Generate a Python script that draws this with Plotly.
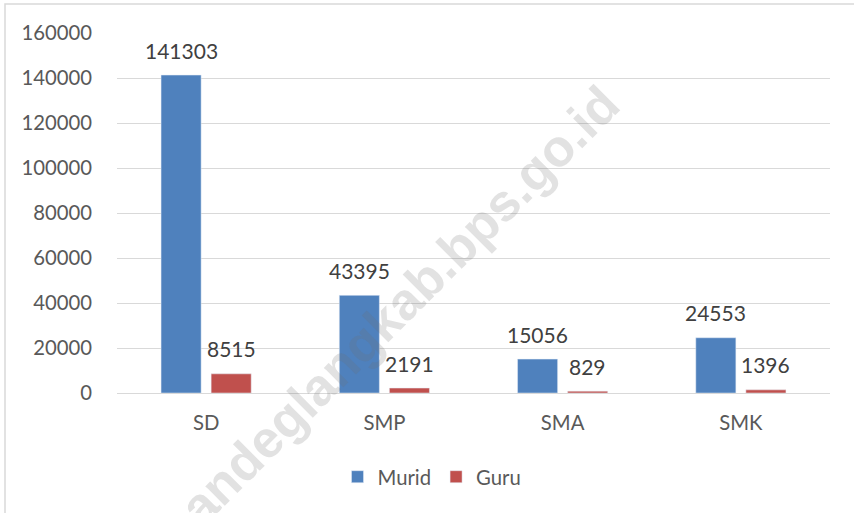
import plotly.graph_objects as go

categories = ["SD", "SMP", "SMA", "SMK"]
murid = [141303, 43395, 15056, 24553]
guru = [8515, 2191, 829, 1396]
y_ticks = [0, 20000, 40000, 60000, 80000, 100000, 120000, 140000, 160000]

FONT = "Lato"
BLUE = "#4F81BD"
RED = "#C0504D"

# plot area target: x 117..830, y 33..393 (screen px)
L, R, T, B = 117, 24, 33, 120
PW, PH = 713, 360

fig = go.Figure()
fig.add_trace(go.Bar(name="Murid", x=categories, y=murid, marker_color=BLUE))
fig.add_trace(go.Bar(name="Guru", x=categories, y=guru, marker_color=RED))

annotations = []
for series, shift in ((murid, -25), (guru, 25)):
    for c, v in zip(categories, series):
        annotations.append(dict(
            x=c, y=v, xref="x", yref="y", text=str(v), showarrow=False,
            xshift=shift, yshift=25, yanchor="middle",
            font=dict(family=FONT, size=21, color="#404040"),
        ))

# watermark
annotations.append(dict(
    x=(388 - 117) / PW, y=(393 - 317) / PH, xref="paper", yref="paper",
    text="<b>pandeglangkab.bps.go.id</b>",
    showarrow=False, textangle=-45, xanchor="center", yanchor="middle",
    font=dict(family="Liberation Sans", size=52, color="rgba(110,110,110,0.2)"),
))

fig.update_layout(
    width=854, height=513,
    margin=dict(l=L, r=R, t=T, b=B, autoexpand=False),
    paper_bgcolor="white", plot_bgcolor="white",
    barmode="group", bargap=0.438, bargroupgap=0.2,
    showlegend=True,
    legend=dict(orientation="h", x=(432 - 117) / PW, xanchor="center",
                y=-(477 - 393) / PH, yanchor="middle",
                font=dict(family=FONT, size=20.3, color="#595959"),
                traceorder="normal"),
    font=dict(family=FONT, size=20.3, color="#595959"),
    annotations=annotations,
)
fig.update_yaxes(range=[0, 160000], tickvals=y_ticks, ticktext=[str(t) for t in y_ticks],
                 showgrid=True, gridcolor="#d9d9d9", gridwidth=1,
                 zeroline=True, zerolinecolor="#d9d9d9", zerolinewidth=1,
                 showline=False, ticks="", ticklabelstandoff=24,
                 tickfont=dict(family=FONT, size=20.3, color="#595959"))
fig.update_xaxes(showgrid=False, showline=False, ticks="", ticklabelstandoff=16,
                 tickfont=dict(family=FONT, size=20.3, color="#595959"))

# outer chart border
fig.add_shape(type="rect", xref="paper", yref="paper",
              x0=(5 - 117) / PW, x1=1.5, y0=-1, y1=(393 - 4) / PH,
              line=dict(color="#d9d9d9", width=1.5), fillcolor="rgba(0,0,0,0)", layer="below")

fig.write_html("out.html", config={"displayModeBar": False},
               post_script="document.body.style.margin='0px';")
